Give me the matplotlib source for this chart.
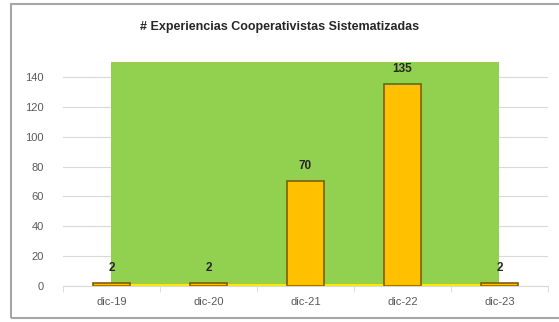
import numpy as np
import matplotlib.pyplot as plt
from matplotlib.patches import Rectangle

# data
categorias = ["dic-19", "dic-20", "dic-21", "dic-22", "dic-23"]
valores = [2, 2, 70, 135, 2]
titulo = "# Experiencias Cooperativistas Sistematizadas"

plt.rcParams["font.family"] = ["Liberation Sans", "DejaVu Sans"]

fig = plt.figure(figsize=(5.59, 3.22), dpi=100)
ax = fig.add_axes([0.1127, 0.1118, 0.8675, 0.6957])

x = np.arange(len(categorias))

# green background block behind the bars (covers the gridlines)
ax.axvspan(0, len(categorias) - 1, ymin=0, ymax=1, color="#92D050", zorder=0.8, lw=0)
ax.plot([0, len(categorias) - 1], [0.7, 0.7], color="#FFE600", lw=2.2, zorder=1)

bars = ax.bar(x, valores, width=0.38, color="#FFC000", edgecolor="#7F6000",
              linewidth=1.2, zorder=2)
for xi, v in zip(x, valores):
    ax.text(xi, v + 6, str(v), ha="center", va="bottom", fontsize=8.5,
            fontweight="bold", color="#262626", zorder=3)

ax.set_xlim(-0.5, len(categorias) - 0.5)
ax.set_ylim(0, 150)
ax.set_yticks(np.arange(0, 141, 20))
ax.set_xticks(x)
ax.set_xticklabels(categorias)
ax.set_xticks(np.arange(-0.5, len(categorias), 1), minor=True)
ax.tick_params(axis="x", which="major", length=0, labelsize=8, colors="#595959", pad=8)
ax.tick_params(axis="x", which="minor", length=4, color="#D9D9D9")
ax.tick_params(axis="y", length=0, labelsize=8, colors="#595959", pad=14)
ax.set_axisbelow(True)
ax.grid(axis="y", color="#D9D9D9", lw=0.8)
for s in ["top", "right", "left"]:
    ax.spines[s].set_visible(False)
ax.spines["bottom"].set_color("#D9D9D9")

fig.text(0.5, 0.915, titulo, ha="center", va="center", fontsize=9,
         fontweight="bold", color="#262626")

# chart border
fig.patches.append(Rectangle((11 / 559, 4 / 322), 560 / 559, 314 / 322,
                             transform=fig.transFigure, fill=False,
                             edgecolor="#A6A6A6", lw=1.5))

fig.savefig("out.png", dpi=100)
